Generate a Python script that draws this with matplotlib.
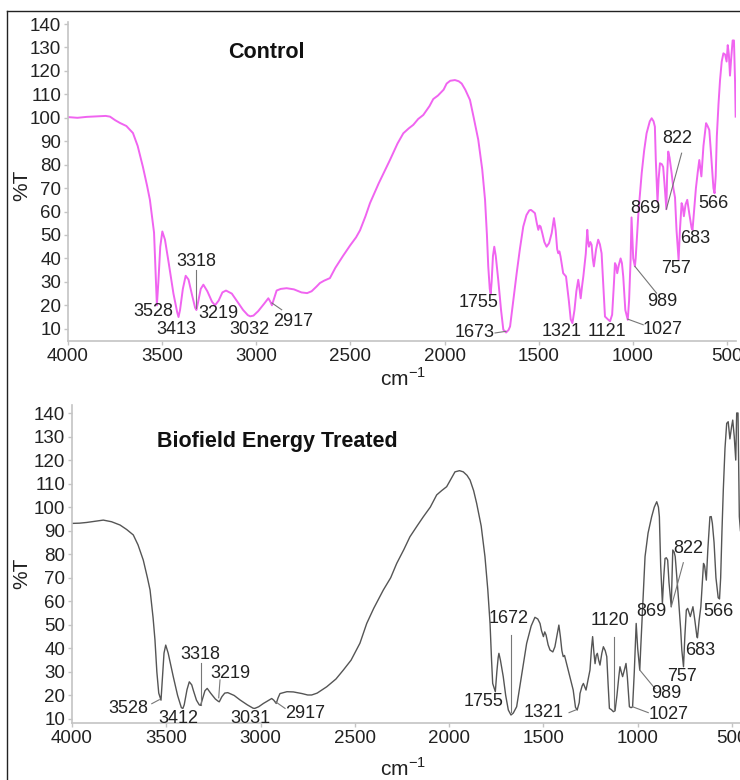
import matplotlib
matplotlib.use("Agg")
import matplotlib.pyplot as plt
from matplotlib.lines import Line2D

plt.rcParams['font.family'] = ['Liberation Sans', 'DejaVu Sans']
plt.rcParams['mathtext.fontset'] = 'custom'
plt.rcParams['mathtext.rm'] = 'Liberation Sans'

# ---- FTIR spectrum: control sample (wavenumber cm-1, %T) ----
control_wn = [
    4000, 3950, 3900, 3850, 3800, 3777, 3750, 3724, 3690, 3655, 3630, 3602, 3580, 3565,
    3543, 3535, 3528, 3520, 3510, 3499, 3485, 3465, 3440, 3420, 3413, 3405, 3390, 3375,
    3360, 3340, 3325, 3318, 3310, 3295, 3281, 3260, 3235, 3219, 3200, 3180, 3161, 3130,
    3100, 3070, 3045, 3032, 3015, 2990, 2960, 2936, 2925, 2917, 2905, 2892, 2870, 2839,
    2800, 2760, 2730, 2706, 2680, 2662, 2640, 2609, 2580, 2540, 2502, 2470, 2449, 2420,
    2396, 2350, 2320, 2290, 2250, 2219, 2190, 2166, 2140, 2113, 2080, 2060, 2035, 2024,
    2005, 1989, 1970, 1945, 1925, 1909, 1890, 1865, 1845, 1821, 1800, 1785, 1775, 1768,
    1760, 1755, 1750, 1743, 1736, 1728, 1715, 1700, 1688, 1673, 1660, 1652, 1635, 1617,
    1600, 1582, 1565, 1550, 1541, 1530, 1520, 1510, 1502, 1496, 1490, 1481, 1470, 1458,
    1445, 1431, 1419, 1410, 1402, 1396, 1390, 1384, 1370, 1355, 1340, 1330, 1321, 1310,
    1300, 1290, 1283, 1277, 1270, 1263, 1250, 1242, 1237, 1233, 1226, 1219, 1213, 1207,
    1195, 1184, 1175, 1166, 1158, 1148, 1130, 1121, 1110, 1100, 1095, 1089, 1083, 1075,
    1065, 1058, 1051, 1040, 1027, 1020, 1012, 1007, 1003, 998, 989, 985, 980, 970,
    953, 940, 927, 910, 900, 890, 883, 878, 869, 863, 856, 846, 839, 832,
    822, 818, 812, 805, 794, 785, 776, 768, 757, 750, 741, 735, 729, 720,
    711, 700, 688, 683, 675, 665, 655, 647, 641, 636, 625, 611, 603, 594,
    585, 572, 566, 560, 554, 545, 537, 528, 519, 510, 502, 496, 490, 484,
    478, 470, 463, 457, 454,
]
control_t = [
    100.3, 100.0, 100.4, 100.6, 100.8, 100.5, 99.0, 97.8, 96.5, 93.5, 88.0, 79.0, 71.0, 65.0,
    51.0, 35.0, 20.0, 30.0, 45.0, 51.5, 48.0, 38.0, 25.0, 17.0, 15.0, 18.0, 27.0, 32.6,
    31.0, 24.0, 19.0, 18.0, 21.0, 27.0, 28.8, 26.0, 21.5, 20.0, 22.0, 25.5, 26.3, 25.0,
    21.5, 18.0, 15.8, 15.3, 15.6, 17.5, 20.5, 23.0, 21.5, 20.0, 23.0, 26.3, 27.0, 27.3,
    26.8, 25.5, 25.2, 26.0, 28.0, 29.5, 30.5, 31.6, 36.0, 41.0, 45.5, 49.0, 52.0, 58.0,
    63.6, 72.0, 77.0, 82.0, 89.0, 93.4, 95.5, 97.0, 99.5, 101.2, 105.0, 108.0, 109.5, 110.4,
    112.0, 114.6, 115.8, 116.1, 115.6, 114.6, 112.0, 107.6, 100.0, 90.6, 78.0, 65.0, 50.0, 36.6,
    27.0, 25.0, 30.0, 41.0, 45.0, 41.0, 30.9, 18.0, 9.6, 8.4, 9.5, 11.0, 22.0, 33.7,
    44.0, 53.6, 58.5, 60.5, 60.7, 60.0, 59.3, 55.0, 52.2, 54.0, 53.6, 50.8, 47.0, 45.0,
    46.5, 50.8, 57.2, 52.0, 44.0, 42.2, 43.0, 40.8, 33.7, 32.3, 22.0, 14.0, 12.4, 18.0,
    26.0, 30.9, 27.0, 23.0, 28.0, 32.3, 42.0, 52.2, 47.0, 45.0, 47.0, 45.8, 40.0, 36.6,
    44.0, 48.0, 46.0, 42.2, 30.0, 15.2, 13.8, 13.2, 16.0, 30.0, 38.0, 37.0, 33.7, 37.0,
    40.0, 38.0, 32.3, 18.0, 13.8, 22.0, 39.4, 57.5, 50.0, 40.0, 36.6, 40.0, 46.5, 60.0,
    76.4, 86.0, 93.4, 98.5, 99.8, 98.5, 96.2, 82.0, 64.0, 74.0, 80.6, 80.2, 79.0, 72.0,
    61.0, 75.0, 85.6, 83.0, 76.4, 70.0, 66.0, 52.0, 39.4, 52.0, 63.6, 62.0, 58.0, 63.0,
    65.0, 59.0, 53.0, 52.2, 60.0, 70.0, 77.0, 82.0, 78.0, 75.0, 88.0, 97.7, 96.5, 94.8,
    85.0, 70.0, 67.8, 75.0, 92.0, 106.0, 116.0, 124.0, 127.5, 127.0, 124.0, 131.0, 127.0, 118.0,
    125.0, 133.0, 133.0, 115.0, 100.5,
]

# ---- FTIR spectrum: biofield energy treated sample ----
treated_wn = [
    4000, 3960, 3922, 3880, 3834, 3790, 3745, 3710, 3675, 3650, 3622, 3600, 3586, 3570,
    3560, 3550, 3540, 3528, 3520, 3512, 3503, 3490, 3463, 3440, 3420, 3412, 3405, 3390,
    3378, 3365, 3357, 3340, 3325, 3318, 3310, 3295, 3283, 3265, 3240, 3224, 3219, 3205,
    3190, 3174, 3140, 3109, 3070, 3040, 3031, 3010, 2985, 2960, 2941, 2930, 2917, 2907,
    2897, 2860, 2826, 2780, 2750, 2729, 2700, 2649, 2600, 2561, 2520, 2473, 2437, 2400,
    2349, 2310, 2278, 2240, 2208, 2170, 2137, 2100, 2066, 2040, 2013, 1990, 1969, 1945,
    1925, 1905, 1889, 1870, 1854, 1830, 1810, 1795, 1783, 1775, 1769, 1755, 1747, 1740,
    1736, 1728, 1713, 1700, 1686, 1672, 1660, 1642, 1615, 1589, 1565, 1545, 1530, 1518,
    1510, 1500, 1493, 1486, 1475, 1465, 1450, 1439, 1425, 1418, 1410, 1402, 1395, 1388,
    1377, 1360, 1342, 1330, 1321, 1310, 1306, 1295, 1288, 1280, 1274, 1265, 1253, 1245,
    1239, 1232, 1226, 1220, 1214, 1207, 1200, 1190, 1182, 1172, 1164, 1157, 1150, 1140,
    1129, 1120, 1110, 1100, 1094, 1087, 1080, 1070, 1062, 1055, 1044, 1035, 1027, 1018,
    1008, 1000, 989, 984, 975, 961, 945, 926, 912, 899, 890, 885, 878, 869,
    862, 855, 848, 841, 834, 822, 818, 814, 807, 801, 792, 783, 772, 766,
    757, 750, 742, 735, 727, 721, 713, 707, 697, 686, 683, 674, 665, 657,
    651, 645, 636, 628, 617, 610, 604, 595, 585, 573, 566, 560, 553, 546,
    537, 528, 520, 511, 502, 496, 488, 480, 475, 468, 461, 455,
]
treated_t = [
    93.1, 93.2, 93.5, 94.0, 94.5, 93.8, 92.4, 90.5, 88.2, 84.0, 77.5, 70.0, 64.8, 53.0,
    43.6, 30.0, 21.0, 18.0, 28.0, 38.0, 41.4, 38.0, 28.0, 20.0, 14.8, 14.5, 16.0, 22.5,
    25.8, 24.5, 22.3, 18.0, 16.0, 15.8, 18.0, 22.0, 23.0, 21.0, 18.5, 17.5, 17.3, 19.5,
    21.0, 21.2, 20.0, 18.1, 16.0, 14.6, 14.5, 15.2, 16.6, 17.8, 18.7, 18.0, 16.6, 19.0,
    20.8, 21.6, 21.5, 20.8, 20.2, 20.2, 21.0, 23.7, 27.0, 30.8, 35.0, 42.2, 50.6, 57.0,
    64.8, 70.0, 76.1, 82.0, 87.4, 92.0, 95.9, 100.0, 105.2, 107.0, 108.7, 112.0, 115.0, 115.5,
    115.0, 113.5, 111.5, 107.0, 101.6, 92.0, 79.0, 65.0, 50.6, 35.0, 25.1, 21.6, 30.0, 36.0,
    37.9, 35.0, 28.0, 20.0, 13.8, 11.7, 12.5, 15.2, 29.0, 42.1, 49.5, 53.2, 52.5, 50.6,
    47.5, 45.0, 47.0, 45.7, 41.5, 39.3, 38.5, 40.7, 47.0, 49.9, 45.0, 39.0, 36.5, 37.0,
    33.5, 28.0, 22.3, 15.0, 13.8, 17.0, 20.8, 24.0, 25.1, 23.5, 22.3, 26.0, 30.8, 40.0,
    45.0, 38.0, 33.5, 37.0, 37.9, 35.0, 32.9, 38.0, 40.7, 39.0, 36.5, 25.0, 14.5, 14.0,
    13.1, 13.5, 20.0, 28.0, 32.2, 30.0, 28.0, 31.0, 33.6, 28.0, 15.2, 14.8, 15.2, 30.0,
    50.6, 40.0, 30.8, 40.0, 55.0, 79.0, 89.0, 95.9, 100.0, 102.3, 100.0, 95.9, 75.0, 59.1,
    70.0, 78.2, 78.5, 77.5, 68.0, 57.7, 70.0, 81.8, 81.0, 79.0, 70.0, 60.5, 48.0, 39.3,
    32.2, 45.0, 56.3, 57.0, 55.0, 53.5, 56.0, 57.7, 52.0, 45.0, 44.5, 52.0, 57.7, 68.0,
    76.1, 75.0, 69.0, 82.0, 95.9, 96.0, 93.1, 85.0, 70.0, 61.5, 61.0, 70.0, 90.0, 107.3,
    125.0, 135.6, 136.3, 129.0, 134.2, 137.0, 130.0, 120.0, 140.0, 140.0, 96.0, 90.0,
]

# peak labels: (text, x, y) in data units
control_labels = [
    ("3528", 3549, 17.2), ("3413", 3423, 9.6), ("3318", 3317, 38.7), ("3219", 3202, 16.7),
    ("3032", 3037, 9.6), ("2917", 2803, 13.0), ("1755", 1821, 21.0), ("1673", 1838, 8.2),
    ("1321", 1378, 8.8), ("1121", 1139, 8.8), ("1027", 842, 9.6), ("989", 842, 21.6),
    ("757", 771, 35.9), ("683", 670, 48.6), ("869", 935, 61.4), ("822", 764, 91.3),
    ("566", 573, 63.6),
]
control_leaders = [
    ((3318, 3318), (35.0, 19.0)), ((2917, 2865), (21.0, 18.1)), ((1732, 1674), (8.2, 8.9)),
    ((1027, 945), (14.1, 11.7)), ((989, 874), (36.6, 25.2)), ((822, 741), (61.0, 84.9)),
]
treated_labels = [
    ("3528", 3701, 14.5), ("3412", 3436, 10.3), ("3318", 3321, 37.2), ("3219", 3162, 29.4),
    ("3031", 3056, 10.3), ("2917", 2764, 12.4), ("1755", 1819, 17.3), ("1672", 1686, 52.7),
    ("1321", 1500, 12.7), ("1120", 1147, 52.0), ("1027", 838, 11.7), ("989", 846, 20.9),
    ("757", 767, 28.0), ("683", 670, 39.3), ("869", 926, 55.5), ("822", 732, 82.5),
    ("566", 573, 55.5),
]
treated_leaders = [
    ((3577, 3537), (16.5, 18.2)), ((3318, 3318), (33.8, 16.0)), ((3215, 3222), (26.6, 19.0)),
    ((2920, 2870), (17.3, 14.5)), ((1672, 1672), (45.7, 13.0)), ((1364, 1330), (12.7, 13.8)),
    ((1125, 1125), (45.0, 13.8)), ((1027, 944), (15.2, 12.7)), ((989, 908), (30.8, 22.9)),
    ((822, 758), (57.7, 76.4)),
]

W, H = 740, 780
fig = plt.figure(figsize=(W / 100, H / 100), dpi=100)


def px_axes(left, right, top, bottom):
    return fig.add_axes([left / W, 1 - bottom / H, (right - left) / W, (bottom - top) / H])


def style(ax, ylo, yhi):
    ax.set_xlim(4000, 450)
    ax.set_ylim(ylo, yhi)
    ax.set_xticks(range(4000, 499, -500))
    ax.set_yticks(range(10, 141, 10))
    for s in ("top", "right"):
        ax.spines[s].set_visible(False)
    for s in ("left", "bottom"):
        ax.spines[s].set_color("#c4c4c4")
        ax.spines[s].set_linewidth(1.2)
    ax.tick_params(axis="both", direction="out", length=3, width=1, color="#c4c4c4",
                   labelsize=13.5, labelcolor="#222222", pad=2)
    ax.patch.set_alpha(0)


ax1 = px_axes(68, 736.4, 21.7, 340.7)
style(ax1, 4.9, 141)
ax1.plot(control_wn, control_t, color="#f064f0", lw=1.4, solid_joinstyle="round")
for txt, x, y in control_labels:
    ax1.text(x, y, txt, ha="center", va="center", fontsize=13, color="#222222")
for xs, ys in control_leaders:
    ax1.plot(xs, ys, color="#777777", lw=0.8)

ax2 = px_axes(72, 741.4, 405, 723)
style(ax2, 8.3, 143.4)
ax2.plot(treated_wn, treated_t, color="#555555", lw=1.0, solid_joinstyle="round")
for txt, x, y in treated_labels:
    ax2.text(x, y, txt, ha="center", va="center", fontsize=13, color="#222222")
for xs, ys in treated_leaders:
    ax2.plot(xs, ys, color="#777777", lw=0.8)

# panel titles, axis labels
fig.text(266.7 / W, 1 - 52.3 / H, "Control", ha="center", va="center",
         fontsize=15.5, fontweight="bold", color="#111111")
fig.text(277 / W, 1 - 441.7 / H, "Biofield Energy Treated", ha="center", va="center",
         fontsize=15.5, fontweight="bold", color="#111111")
for yc in (185, 573):
    fig.text(22 / W, 1 - yc / H, "%T", rotation=90, ha="center", va="center",
             fontsize=15, color="#222222")
for yc in (378, 768):
    fig.text(403 / W, 1 - yc / H, r"cm$^{\mathregular{-1}}$", ha="center", va="center",
             fontsize=15, color="#222222")

# outer frame
fig.add_artist(Line2D([7 / W, 7 / W], [0, 1 - 11 / H], color="#222222", lw=1.0))
fig.add_artist(Line2D([7 / W, 1], [1 - 11 / H, 1 - 11 / H], color="#222222", lw=1.0))

fig.savefig("out.png", dpi=100, facecolor="white")
